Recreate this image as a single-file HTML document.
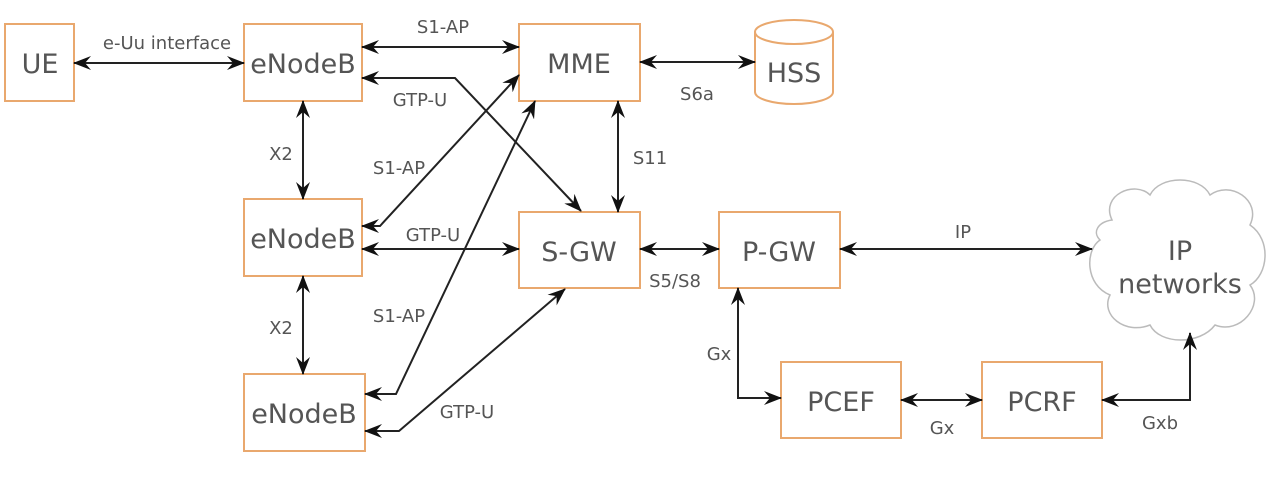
<!DOCTYPE html>
<html><head><meta charset="utf-8"><style>
html,body{margin:0;padding:0;background:#fff;}
svg{display:block;}
text{font-family:"DejaVu Sans","Liberation Sans",sans-serif;fill:#555;}
.b{fill:#fff;stroke:#e9a86e;stroke-width:2;}
.l{stroke:#222;stroke-width:2;fill:none;}
.n{font-size:27px;text-anchor:middle;}
.s{font-size:18px;text-anchor:middle;}
</style></head><body>
<svg width="1274" height="492" viewBox="0 0 1274 492">
<defs>
<marker id="a" viewBox="0 0 18 14" refX="17" refY="7" markerWidth="18" markerHeight="14" orient="auto-start-reverse" markerUnits="userSpaceOnUse">
<path d="M0,0 L18,7 L0,14 L6,7 z" fill="#111"/></marker>
</defs>
<rect class="b" x="5" y="24" width="69" height="77"/>
<rect class="b" x="244" y="24" width="118" height="77"/>
<rect class="b" x="519" y="24" width="121" height="77"/>
<rect class="b" x="244" y="199" width="118" height="77"/>
<rect class="b" x="519" y="212" width="121" height="76"/>
<rect class="b" x="719" y="212" width="121" height="76"/>
<rect class="b" x="244" y="374" width="121" height="77"/>
<rect class="b" x="781" y="362" width="120" height="76"/>
<rect class="b" x="982" y="362" width="120" height="76"/>
<path class="b" d="M755,32 L755,92 A39,12 0 0 0 833,92 L833,32"/>
<ellipse class="b" cx="794" cy="32" rx="39" ry="12"/>
<path d="M1112,220 C1100,195 1135,180 1150,195 C1160,175 1200,175 1210,195 C1230,180 1262,200 1250,225 C1272,240 1268,275 1250,285 C1265,305 1240,335 1215,325 C1200,345 1160,345 1150,325 C1125,335 1100,315 1110,295 C1085,285 1085,250 1100,240 C1092,232 1098,222 1112,220 z" fill="#fff" stroke="#bbb" stroke-width="1.5"/>
<text class="n" x="40" y="73">UE</text>
<text class="n" x="303" y="73">eNodeB</text>
<text class="n" x="579" y="73">MME</text>
<text class="n" x="794" y="82">HSS</text>
<text class="n" x="303" y="248">eNodeB</text>
<text class="n" x="579" y="261">S-GW</text>
<text class="n" x="779" y="261">P-GW</text>
<text class="n" x="304" y="423">eNodeB</text>
<text class="n" x="841" y="411">PCEF</text>
<text class="n" x="1042" y="411">PCRF</text>
<text class="n" x="1180" y="260">IP</text>
<text class="n" x="1180" y="293">networks</text>
<line class="l" x1="74" y1="63" x2="244" y2="63" marker-start="url(#a)" marker-end="url(#a)"/>
<line class="l" x1="362" y1="47" x2="519" y2="47" marker-start="url(#a)" marker-end="url(#a)"/>
<polyline class="l" points="362,78 455,78 581,211" marker-start="url(#a)" marker-end="url(#a)"/>
<line class="l" x1="618" y1="101" x2="618" y2="212" marker-start="url(#a)" marker-end="url(#a)"/>
<line class="l" x1="640" y1="62" x2="755" y2="62" marker-start="url(#a)" marker-end="url(#a)"/>
<line class="l" x1="303" y1="101" x2="303" y2="199" marker-start="url(#a)" marker-end="url(#a)"/>
<line class="l" x1="303" y1="276" x2="303" y2="374" marker-start="url(#a)" marker-end="url(#a)"/>
<polyline class="l" points="362,226 380,226 519,75" marker-start="url(#a)" marker-end="url(#a)"/>
<line class="l" x1="362" y1="249" x2="519" y2="249" marker-start="url(#a)" marker-end="url(#a)"/>
<polyline class="l" points="365,394 396,394 535,101" marker-start="url(#a)" marker-end="url(#a)"/>
<polyline class="l" points="365,431 399,431 565,289" marker-start="url(#a)" marker-end="url(#a)"/>
<line class="l" x1="640" y1="249" x2="719" y2="249" marker-start="url(#a)" marker-end="url(#a)"/>
<line class="l" x1="840" y1="249" x2="1092" y2="249" marker-start="url(#a)" marker-end="url(#a)"/>
<polyline class="l" points="738,288 738,398 781,398" marker-start="url(#a)" marker-end="url(#a)"/>
<line class="l" x1="901" y1="400" x2="982" y2="400" marker-start="url(#a)" marker-end="url(#a)"/>
<polyline class="l" points="1102,400 1190,400 1190,333" marker-start="url(#a)" marker-end="url(#a)"/>
<text class="s" x="167" y="49">e-Uu interface</text>
<text class="s" x="443" y="33">S1-AP</text>
<text class="s" x="420" y="106">GTP-U</text>
<text class="s" x="281" y="160">X2</text>
<text class="s" x="399" y="174">S1-AP</text>
<text class="s" x="433" y="241">GTP-U</text>
<text class="s" x="281" y="334">X2</text>
<text class="s" x="399" y="322">S1-AP</text>
<text class="s" x="467" y="418">GTP-U</text>
<text class="s" x="697" y="100">S6a</text>
<text class="s" x="650" y="164">S11</text>
<text class="s" x="675" y="287">S5/S8</text>
<text class="s" x="963" y="238">IP</text>
<text class="s" x="719" y="360">Gx</text>
<text class="s" x="942" y="434">Gx</text>
<text class="s" x="1160" y="429">Gxb</text>
</svg>
</body></html>
